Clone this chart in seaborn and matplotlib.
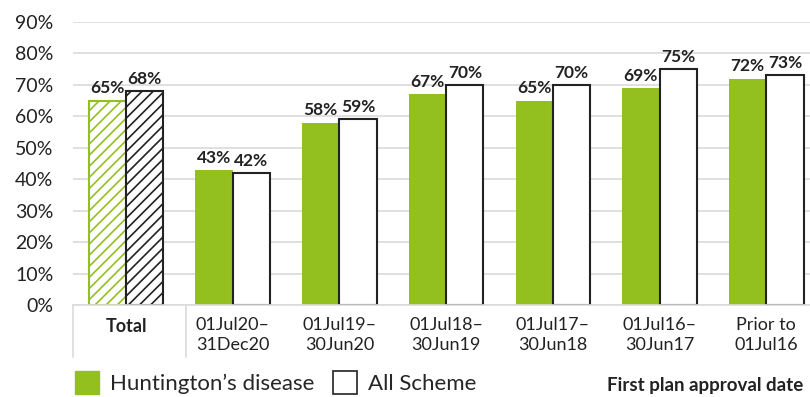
import matplotlib
matplotlib.use("Agg")
import matplotlib.pyplot as plt
import seaborn as sns
import pandas as pd
from matplotlib.patches import Patch
from matplotlib.transforms import blended_transform_factory

categories = ["Total", "01Jul20–\n31Dec20", "01Jul19–\n30Jun20", "01Jul18–\n30Jun19",
              "01Jul17–\n30Jun18", "01Jul16–\n30Jun17", "Prior to\n01Jul16"]
hd_values = [65, 43, 58, 67, 65, 69, 72]
all_values = [68, 42, 59, 70, 70, 75, 73]
series_names = ["Huntington’s disease", "All Scheme"]
yticks = [0, 10, 20, 30, 40, 50, 60, 70, 80, 90]

GREEN = "#93C01F"
GRID = "#DADADA"

sns.set_theme(style="white")
plt.rcParams["font.family"] = ["Lato", "DejaVu Sans"]
plt.rcParams["hatch.linewidth"] = 1.2

df = pd.DataFrame({
    "period": categories * 2,
    "value": hd_values + all_values,
    "series": [series_names[0]] * len(categories) + [series_names[1]] * len(categories),
})

fig = plt.figure(figsize=(8.10, 3.97), dpi=100)
ax = fig.add_axes([72.7 / 810, 1 - 305 / 397, (819.6 - 72.7) / 810, (305 - 22) / 397])

sns.barplot(data=df, x="period", y="value", hue="series", order=categories,
            hue_order=series_names, palette=[GREEN, "white"], width=0.7,
            gap=0, saturation=1, ax=ax, legend=False)

n = len(categories)
containers = ax.containers
for p in containers[0].patches:
    p.set_facecolor(GREEN)
    p.set_edgecolor(GREEN)
    p.set_linewidth(0)
for p in containers[1].patches:
    p.set_facecolor("white")
    p.set_edgecolor("#222222")
    p.set_linewidth(1.5)

# hatched Total bars
p0 = containers[0].patches[0]
p0.set_facecolor("white")
p0.set_edgecolor(GREEN)
p0.set_linewidth(1.5)
p0.set_hatch("///")
p1 = containers[1].patches[0]
p1.set_hatch("///")

for c in containers:
    ax.bar_label(c, fmt="%d%%", padding=3, fontsize=12.5, fontweight="bold", color="#222222")

ax.set_ylim(0, 90)
ax.set_xlim(-0.5, n - 0.5)
ax.set_yticks(yticks)
ax.set_yticklabels([f"{v}%" for v in yticks], fontsize=14, color="#222222")
ax.yaxis.grid(True, color=GRID, linewidth=1.2)
ax.set_axisbelow(True)
for s in ["top", "right", "left"]:
    ax.spines[s].set_visible(False)
ax.spines["bottom"].set_color(GRID)
ax.spines["bottom"].set_linewidth(1.2)
ax.tick_params(axis="y", length=0, pad=14)
ax.tick_params(axis="x", length=0, pad=9)
ax.set_xticks(range(n))
ax.set_xticklabels(categories, fontsize=13, color="#222222", linespacing=1.3)
ax.get_xticklabels()[0].set_fontweight("bold")
ax.set_xlabel("")
ax.set_ylabel("")

# vertical separators below axis
trans = blended_transform_factory(ax.transData, ax.transAxes)
sep_h = (357 - 305) / (305 - 22)
for xs in [-0.5, 0.566]:
    ax.plot([xs, xs], [0, -sep_h], transform=trans, color=GRID, lw=1.2, clip_on=False)

handles = [Patch(facecolor=GREEN, edgecolor=GREEN, label=series_names[0]),
           Patch(facecolor="white", edgecolor="#222222", linewidth=1.2, label=series_names[1])]
fig.legend(handles=handles, loc="lower left", bbox_to_anchor=(66 / 810, -0.015), ncol=2,
           frameon=False, fontsize=16, handlelength=1.1, handleheight=1.2,
           handletextpad=0.5, columnspacing=0.8, borderaxespad=0)

fig.text(803 / 810, 1 - 386 / 397, "First plan approval date", ha="right", va="center",
         fontsize=13.5, fontweight="bold", color="#222222")

fig.savefig("out.png", dpi=100)
